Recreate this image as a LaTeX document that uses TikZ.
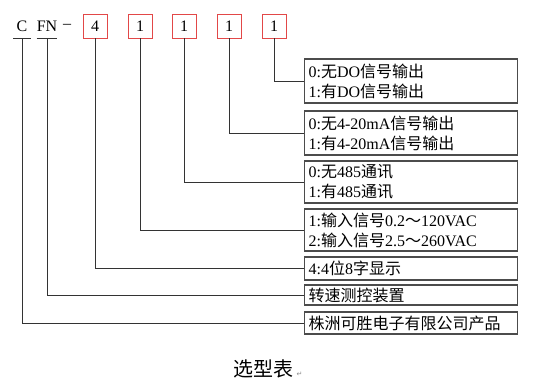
\documentclass[tikz,border=0pt]{standalone}
\usepackage{fontspec}
\setmainfont{Liberation Serif}
\newfontfamily\zh{Noto Sans CJK SC}
\newfontfamily\symfont{DejaVu Sans}
\usetikzlibrary{positioning}
\definecolor{codered}{RGB}{226,72,72}

\begin{document}
\begin{tikzpicture}[
    x=1pt, y=-1pt,
    letter/.style={minimum width=17pt, minimum height=24pt, inner sep=0pt, font=\fontsize{16}{16}\selectfont},
    codebox/.style={draw=codered, line width=0.9pt, minimum width=24pt, minimum height=24pt, inner sep=0pt, font=\fontsize{16}{16}\selectfont},
    optbox/.style={draw=black!70, line width=1.2pt, anchor=west, text width=205pt, inner xsep=4pt, inner ysep=1pt, align=left, font=\fontsize{16}{20}\selectfont},
    link/.style={black!80, line width=0.8pt},
]
\useasboundingbox (0,0) rectangle (544,388);

% Model code
\node[letter] (c) at (22,26) {C};
\node[letter, minimum width=18pt] (fn) at (47,26) {FN};
\node[letter] (dash) at (67,26) {\textendash};
\node[codebox] (d1) at (95,26) {4};
\node[codebox] (d2) at (140,26) {1};
\node[codebox] (d3) at (184,26) {1};
\node[codebox] (d4) at (229,26) {1};
\node[codebox] (d5) at (274,26) {1};

% Option boxes
\node[optbox, minimum height=44pt] (b1) at (304,81) {0:{\zh 无}DO{\zh 信号输出}\\1:{\zh 有}DO{\zh 信号输出}};
\node[optbox, minimum height=44pt] (b2) at (304,133) {0:{\zh 无}4-20mA{\zh 信号输出}\\1:{\zh 有}4-20mA{\zh 信号输出}};
\node[optbox, minimum height=42pt] (b3) at (304,182) {0:{\zh 无}485{\zh 通讯}\\1:{\zh 有}485{\zh 通讯}};
\node[optbox, minimum height=42pt] (b4) at (304,230) {1:{\zh 输入信号}0.2{\zh ～}120VAC\\2:{\zh 输入信号}2.5{\zh ～}260VAC};
\node[optbox, minimum height=23pt] (b5) at (304,268.5) {4:4{\zh 位}8{\zh 字显示}};
\node[optbox, minimum height=20pt] (b6) at (304,295) {\zh 转速测控装置};
\node[optbox, minimum height=22pt] (b7) at (304,323) {\zh 株洲可胜电子有限公司产品};

% Title
\node[font=\fontsize{20}{20}\selectfont\zh] (title) at (263,369) {选型表};
\node[right=0pt of title.base east, anchor=base west, font=\fontsize{7}{7}\selectfont\symfont, text=black!45, inner sep=0pt] (mark) {↵};

% Underlines
\draw[link] (c.south west) -- (c.south east);
\draw[link] (fn.south west) -- (fn.south east);

% Connectors
\draw[link] (d5.south) |- (b1.west);
\draw[link] (d4.south) |- (b2.west);
\draw[link] (d3.south) |- (b3.west);
\draw[link] (d2.south) |- (b4.west);
\draw[link] (d1.south) |- (b5.west);
\draw[link] (fn.south) |- (b6.west);
\draw[link] (c.south) |- (b7.west);

\end{tikzpicture}
\end{document}
